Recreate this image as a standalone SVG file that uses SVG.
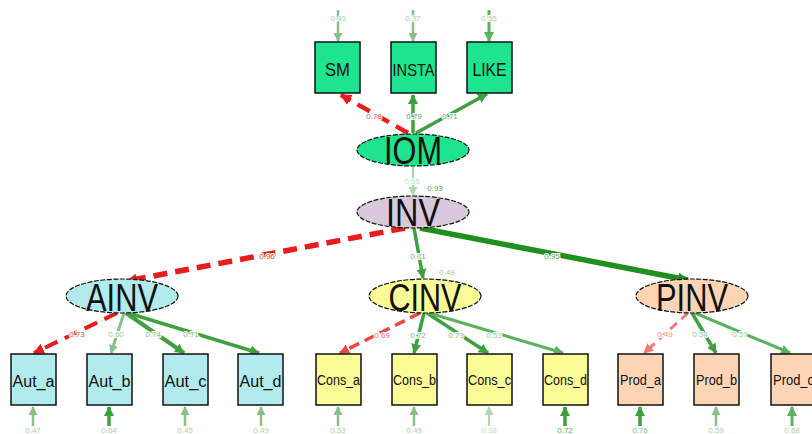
<svg xmlns="http://www.w3.org/2000/svg" width="812" height="434" viewBox="0 0 812 434">
<style>
.box{stroke:#111;stroke-width:1.5}
.ell{stroke:#111;stroke-width:1.2;stroke-dasharray:5 1.5}
.big{font-family:"Liberation Sans",Arial,sans-serif;font-size:38px;fill:#111;text-anchor:middle}
.nl{font-family:"Liberation Sans",Arial,sans-serif;fill:#111;text-anchor:middle}
.el{font-family:"Liberation Sans",Arial,sans-serif;font-size:8px;text-anchor:middle;stroke:#fff;stroke-width:2;paint-order:stroke}
.g1{fill:none;stroke:#1f8f1f}
.g2{fill:none;stroke:#3ea03e}
.g3{fill:none;stroke:#5cb25c}
.g4{fill:none;stroke:#86c286}
.g5{fill:none;stroke:#b0d8b0}
.r1{fill:none;stroke:#e81c1c;stroke-dasharray:14 8}
.r2{fill:none;stroke:#ea4848;stroke-dasharray:11 6}
.r3{fill:none;stroke:#f07a7a;stroke-dasharray:9 6}
</style>
<defs>
<marker id="ag1" viewBox="0 0 10 10" refX="9" refY="5" markerWidth="11" markerHeight="11" markerUnits="userSpaceOnUse" orient="auto"><path d="M0,0 L10,5 L0,10 z" fill="#1f8f1f"/></marker>
<marker id="ag2" viewBox="0 0 10 10" refX="9" refY="5" markerWidth="10" markerHeight="10" markerUnits="userSpaceOnUse" orient="auto"><path d="M0,0 L10,5 L0,10 z" fill="#3ea03e"/></marker>
<marker id="ag3" viewBox="0 0 10 10" refX="9" refY="5" markerWidth="10" markerHeight="10" markerUnits="userSpaceOnUse" orient="auto"><path d="M0,0 L10,5 L0,10 z" fill="#5cb25c"/></marker>
<marker id="ag4" viewBox="0 0 10 10" refX="9" refY="5" markerWidth="9" markerHeight="9" markerUnits="userSpaceOnUse" orient="auto"><path d="M0,0 L10,5 L0,10 z" fill="#86c286"/></marker>
<marker id="ag5" viewBox="0 0 10 10" refX="9" refY="5" markerWidth="9" markerHeight="9" markerUnits="userSpaceOnUse" orient="auto"><path d="M0,0 L10,5 L0,10 z" fill="#b0d8b0"/></marker>
<marker id="ar1" viewBox="0 0 10 10" refX="9" refY="5" markerWidth="11" markerHeight="11" markerUnits="userSpaceOnUse" orient="auto"><path d="M0,0 L10,5 L0,10 z" fill="#e81c1c"/></marker>
<marker id="ar2" viewBox="0 0 10 10" refX="9" refY="5" markerWidth="10" markerHeight="10" markerUnits="userSpaceOnUse" orient="auto"><path d="M0,0 L10,5 L0,10 z" fill="#ea4848"/></marker>
<marker id="ar3" viewBox="0 0 10 10" refX="9" refY="5" markerWidth="10" markerHeight="10" markerUnits="userSpaceOnUse" orient="auto"><path d="M0,0 L10,5 L0,10 z" fill="#f07a7a"/></marker>
</defs>
<rect width="812" height="434" fill="#ffffff"/>

<g id="connectors">
<line class="g4" x1="338" y1="10" x2="338" y2="41" stroke-width="2.5" marker-end="url(#ag4)"/>
<line class="g4" x1="413" y1="10" x2="413" y2="41" stroke-width="2.5" marker-end="url(#ag4)"/>
<line class="g3" x1="489" y1="10" x2="489" y2="41" stroke-width="3" marker-end="url(#ag3)"/>
<line class="r1" x1="408" y1="133" x2="341" y2="95" stroke-width="4.5" stroke-dasharray="10 6" marker-end="url(#ar1)"/>
<line class="g2" x1="413" y1="133" x2="413" y2="95" stroke-width="3.5" marker-end="url(#ag2)"/>
<line class="g2" x1="416" y1="133" x2="487" y2="94" stroke-width="3.5" marker-end="url(#ag2)"/>
<line class="g5" x1="413" y1="167" x2="413" y2="195" stroke-width="2.5" marker-end="url(#ag5)"/>
<line class="r1" x1="405" y1="228" x2="127" y2="281" stroke-width="5.5" marker-end="url(#ar1)"/>
<line class="g2" x1="414" y1="228" x2="423" y2="278" stroke-width="3.5" marker-end="url(#ag2)"/>
<line class="g1" x1="420" y1="228" x2="688" y2="280" stroke-width="5.5" marker-end="url(#ag1)"/>
<line class="r1" x1="117" y1="313" x2="34" y2="353" stroke-width="4" stroke-dasharray="10 6" marker-end="url(#ar1)"/>
<line class="g4" x1="124" y1="313" x2="111" y2="353" stroke-width="3" marker-end="url(#ag4)"/>
<line class="g2" x1="126" y1="313" x2="184" y2="353" stroke-width="4" marker-end="url(#ag2)"/>
<line class="g2" x1="128" y1="313" x2="259" y2="353" stroke-width="3.5" marker-end="url(#ag2)"/>
<line class="r2" x1="420" y1="313" x2="340" y2="353" stroke-width="3.5" marker-end="url(#ar2)"/>
<line class="g2" x1="424" y1="313" x2="414" y2="353" stroke-width="3.5" marker-end="url(#ag2)"/>
<line class="g2" x1="427" y1="313" x2="488" y2="353" stroke-width="3.5" marker-end="url(#ag2)"/>
<line class="g3" x1="429" y1="313" x2="563" y2="353" stroke-width="3" marker-end="url(#ag3)"/>
<line class="r3" x1="688" y1="313" x2="644" y2="353" stroke-width="3" marker-end="url(#ar3)"/>
<line class="g2" x1="692" y1="313" x2="716" y2="353" stroke-width="3.5" marker-end="url(#ag2)"/>
<line class="g3" x1="695" y1="313" x2="790" y2="353" stroke-width="3" marker-end="url(#ag3)"/>
<line class="g4" x1="33" y1="426" x2="33" y2="407" stroke-width="2.5" marker-end="url(#ag4)"/>
<line class="g2" x1="109" y1="426" x2="109" y2="407" stroke-width="3.5" marker-end="url(#ag2)"/>
<line class="g4" x1="185" y1="426" x2="185" y2="407" stroke-width="2.5" marker-end="url(#ag4)"/>
<line class="g4" x1="261" y1="426" x2="261" y2="407" stroke-width="2.5" marker-end="url(#ag4)"/>
<line class="g4" x1="338" y1="426" x2="338" y2="407" stroke-width="2.5" marker-end="url(#ag4)"/>
<line class="g4" x1="414" y1="426" x2="414" y2="407" stroke-width="2.5" marker-end="url(#ag4)"/>
<line class="g5" x1="489" y1="426" x2="489" y2="407" stroke-width="2" marker-end="url(#ag5)"/>
<line class="g2" x1="565" y1="426" x2="565" y2="407" stroke-width="3.5" marker-end="url(#ag2)"/>
<line class="g2" x1="640" y1="426" x2="640" y2="407" stroke-width="3.5" marker-end="url(#ag2)"/>
<line class="g4" x1="716" y1="426" x2="716" y2="407" stroke-width="2.5" marker-end="url(#ag4)"/>
<line class="g3" x1="792" y1="426" x2="792" y2="407" stroke-width="3" marker-end="url(#ag3)"/>
<text class="el" x="338" y="21" fill="#a8cfa8">0.40</text>
<text class="el" x="413" y="21" fill="#a8cfa8">0.37</text>
<text class="el" x="489" y="21" fill="#a8cfa8">0.55</text>
<text class="el" x="374" y="119" fill="#e05050">0.78</text>
<text class="el" x="414" y="119" fill="#60a860">0.79</text>
<text class="el" x="450" y="119" fill="#60a860">0.71</text>
<text class="el" x="412" y="184" fill="#c0e0c0">0.55</text>
<text class="el" x="435" y="191" fill="#60a860">0.93</text>
<text class="el" x="267" y="259" fill="#d04040">0.96</text>
<text class="el" x="418" y="259" fill="#80b880">0.71</text>
<text class="el" x="447" y="275" fill="#a0cca0">0.49</text>
<text class="el" x="552" y="259" fill="#60a860">0.95</text>
<text class="el" x="77" y="337" fill="#e05050">0.73</text>
<text class="el" x="116" y="337" fill="#a0cca0">0.60</text>
<text class="el" x="153" y="337" fill="#80b880">0.74</text>
<text class="el" x="191" y="337" fill="#80b880">0.71</text>
<text class="el" x="382" y="338" fill="#e87070">0.69</text>
<text class="el" x="418" y="338" fill="#80b880">0.72</text>
<text class="el" x="456" y="338" fill="#80b880">0.73</text>
<text class="el" x="494" y="338" fill="#a0cca0">0.53</text>
<text class="el" x="665" y="337" fill="#f09090">0.49</text>
<text class="el" x="700" y="337" fill="#a0cca0">0.54</text>
<text class="el" x="740" y="337" fill="#a0cca0">0.57</text>
<text class="el" x="33" y="433" fill="#a8cfa8">0.47</text>
<text class="el" x="109" y="433" fill="#a8cfa8">0.64</text>
<text class="el" x="185" y="433" fill="#a8cfa8">0.45</text>
<text class="el" x="261" y="433" fill="#a8cfa8">0.49</text>
<text class="el" x="338" y="433" fill="#a8cfa8">0.53</text>
<text class="el" x="414" y="433" fill="#a8cfa8">0.49</text>
<text class="el" x="489" y="433" fill="#c0e0c0">0.38</text>
<text class="el" x="565" y="433" fill="#60a860">0.72</text>
<text class="el" x="640" y="433" fill="#80b880">0.76</text>
<text class="el" x="716" y="433" fill="#a8cfa8">0.59</text>
<text class="el" x="792" y="433" fill="#a8cfa8">0.68</text>
</g>

<g id="SM"><rect class="box" x="315" y="42" width="45" height="51" fill="#1ee38f"/><text class="nl" x="337.5" y="76" font-size="18" textLength="25" lengthAdjust="spacingAndGlyphs">SM</text></g>
<g id="INSTA"><rect class="box" x="391" y="42" width="45" height="51" fill="#1ee38f"/><text class="nl" x="413.5" y="76" font-size="17" textLength="42" lengthAdjust="spacingAndGlyphs">INSTA</text></g>
<g id="LIKE"><rect class="box" x="467" y="42" width="45" height="51" fill="#1ee38f"/><text class="nl" x="489.5" y="76" font-size="18" textLength="34" lengthAdjust="spacingAndGlyphs">LIKE</text></g>

<g id="IOM"><ellipse class="ell" cx="413" cy="150" rx="56" ry="16" fill="#1ee38f"/><text class="big" x="413" y="164" textLength="58" lengthAdjust="spacingAndGlyphs">IOM</text></g>
<g id="INV"><ellipse class="ell" cx="413" cy="212" rx="56" ry="16" fill="#d9c7dc"/><text class="big" x="413" y="226" textLength="54" lengthAdjust="spacingAndGlyphs">INV</text></g>
<g id="AINV"><ellipse class="ell" cx="122" cy="296" rx="56" ry="17" fill="#b2ebee"/><text class="big" x="122" y="311" textLength="72" lengthAdjust="spacingAndGlyphs">AINV</text></g>
<g id="CINV"><ellipse class="ell" cx="425" cy="296" rx="56" ry="17" fill="#fafa96"/><text class="big" x="425" y="311" textLength="73" lengthAdjust="spacingAndGlyphs">CINV</text></g>
<g id="PINV"><ellipse class="ell" cx="692" cy="296" rx="56" ry="17" fill="#fdd5b5"/><text class="big" x="692" y="311" textLength="72" lengthAdjust="spacingAndGlyphs">PINV</text></g>

<g id="Aut_a"><rect class="box" x="11" y="354" width="45" height="51" fill="#b2ebee"/><text class="nl" x="33.5" y="387" font-size="16" textLength="42" lengthAdjust="spacingAndGlyphs">Aut_a</text></g>
<g id="Aut_b"><rect class="box" x="87" y="354" width="45" height="51" fill="#b2ebee"/><text class="nl" x="109.5" y="387" font-size="16" textLength="42" lengthAdjust="spacingAndGlyphs">Aut_b</text></g>
<g id="Aut_c"><rect class="box" x="163" y="354" width="45" height="51" fill="#b2ebee"/><text class="nl" x="185.5" y="387" font-size="16" textLength="42" lengthAdjust="spacingAndGlyphs">Aut_c</text></g>
<g id="Aut_d"><rect class="box" x="238" y="354" width="45" height="51" fill="#b2ebee"/><text class="nl" x="260.5" y="387" font-size="16" textLength="42" lengthAdjust="spacingAndGlyphs">Aut_d</text></g>
<g id="Cons_a"><rect class="box" x="316" y="354" width="45" height="51" fill="#fafa96"/><text class="nl" x="338.5" y="385" font-size="14" textLength="43" lengthAdjust="spacingAndGlyphs">Cons_a</text></g>
<g id="Cons_b"><rect class="box" x="392" y="354" width="45" height="51" fill="#fafa96"/><text class="nl" x="414.5" y="385" font-size="14" textLength="43" lengthAdjust="spacingAndGlyphs">Cons_b</text></g>
<g id="Cons_c"><rect class="box" x="467" y="354" width="45" height="51" fill="#fafa96"/><text class="nl" x="489.5" y="385" font-size="14" textLength="43" lengthAdjust="spacingAndGlyphs">Cons_c</text></g>
<g id="Cons_d"><rect class="box" x="543" y="354" width="45" height="51" fill="#fafa96"/><text class="nl" x="565.5" y="385" font-size="14" textLength="43" lengthAdjust="spacingAndGlyphs">Cons_d</text></g>
<g id="Prod_a"><rect class="box" x="618" y="354" width="45" height="51" fill="#fdd5b5"/><text class="nl" x="640.5" y="385" font-size="14" textLength="41" lengthAdjust="spacingAndGlyphs">Prod_a</text></g>
<g id="Prod_b"><rect class="box" x="694" y="354" width="45" height="51" fill="#fdd5b5"/><text class="nl" x="716.5" y="385" font-size="14" textLength="41" lengthAdjust="spacingAndGlyphs">Prod_b</text></g>
<g id="Prod_c"><rect class="box" x="771" y="354" width="45" height="51" fill="#fdd5b5"/><text class="nl" x="793.5" y="385" font-size="14" textLength="41" lengthAdjust="spacingAndGlyphs">Prod_c</text></g>
</svg>
